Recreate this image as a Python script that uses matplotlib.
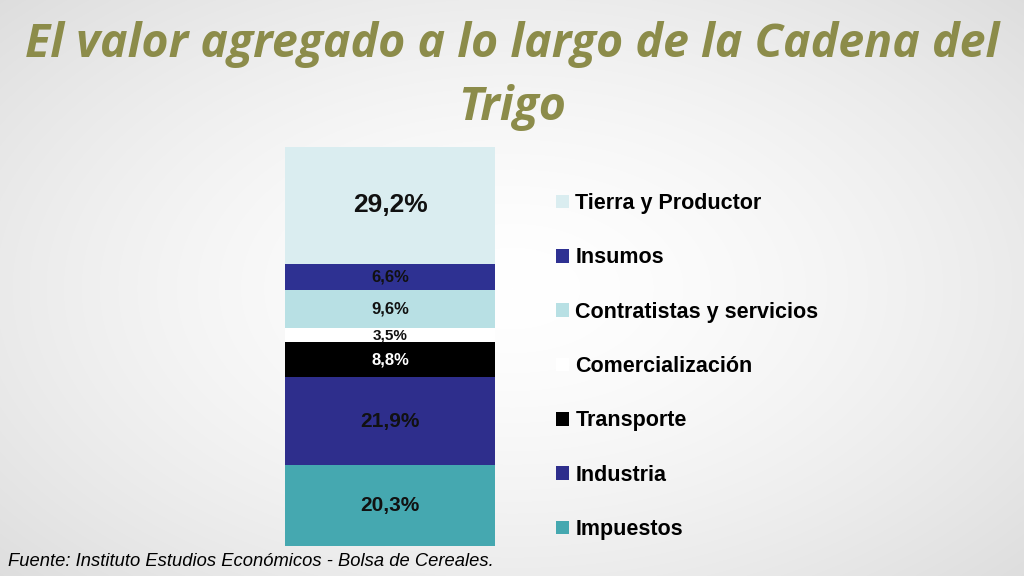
import numpy as np
import matplotlib
matplotlib.use("Agg")
import matplotlib.pyplot as plt

categories = ["Impuestos", "Industria", "Transporte", "Comercialización",
              "Contratistas y servicios", "Insumos", "Tierra y Productor"]
values = [20.3, 21.9, 8.8, 3.5, 9.6, 6.6, 29.2]
labels = ["20,3%", "21,9%", "8,8%", "3,5%", "9,6%", "6,6%", "29,2%"]
colors = ["#45A8B0", "#2E2E8C", "#000000", "#FFFFFF", "#B8E0E4", "#2E3192", "#DAEDF0"]
txtcolors = ["#111111", "#111111", "white", "#111111", "#111111", "#111111", "#111111"]
sizes = [15, 15, 12, 11, 12, 12, 19]

fig = plt.figure(figsize=(10.24, 5.76), dpi=100)
bg = fig.add_axes([0, 0, 1, 1])
yy, xx = np.mgrid[0:576, 0:1024]
r = np.sqrt(((xx - 512) / 700) ** 2 + ((yy - 288) / 420) ** 2)
g = 1 - 0.13 * np.clip(r, 0, 1.2) ** 1.5
bg.imshow(np.dstack([g, g, g]), extent=[0, 1, 0, 1], aspect="auto")
bg.axis("off")

fig.text(0.5, 0.922, "El valor agregado a lo largo de la Cadena del", ha="center", va="center",
         fontsize=33.5, fontweight="bold", style="italic", color="#8C8C4A", family="Open Sans")
fig.text(0.5, 0.814, "Trigo", ha="center", va="center",
         fontsize=33.5, fontweight="bold", style="italic", color="#8C8C4A", family="Open Sans")

ax = fig.add_axes([285/1024, 30/576, 210/1024, 399/576])
ax.set_xlim(-0.5, 0.5)
ax.set_ylim(0, sum(values))
ax.axis("off")
bottom = 0
handles = []
for c, v, lab, col, tc, s in zip(categories, values, labels, colors, txtcolors, sizes):
    h = ax.bar(0, v, width=1.0, bottom=bottom, color=col, label=c)
    ax.text(0, bottom + v / 2, lab, ha="center", va="center", fontsize=s,
            fontweight="bold", color=tc, family="Liberation Sans")
    handles.append(h)
    bottom += v

leg = fig.legend(handles[::-1], categories[::-1], loc="upper left",
                 bbox_to_anchor=(0.543, 0.665), frameon=False, handlelength=0.6,
                 handleheight=0.6, handletextpad=0.3, labelspacing=1.55,
                 borderaxespad=0, borderpad=0,
                 prop={"family": "Liberation Sans", "weight": "bold", "size": 15.5})

fig.text(0.008, 0.025, "Fuente: Instituto Estudios Económicos - Bolsa de Cereales.",
         fontsize=13.2, style="italic", family="Liberation Sans", va="center")

fig.savefig("out.png", dpi=100)
